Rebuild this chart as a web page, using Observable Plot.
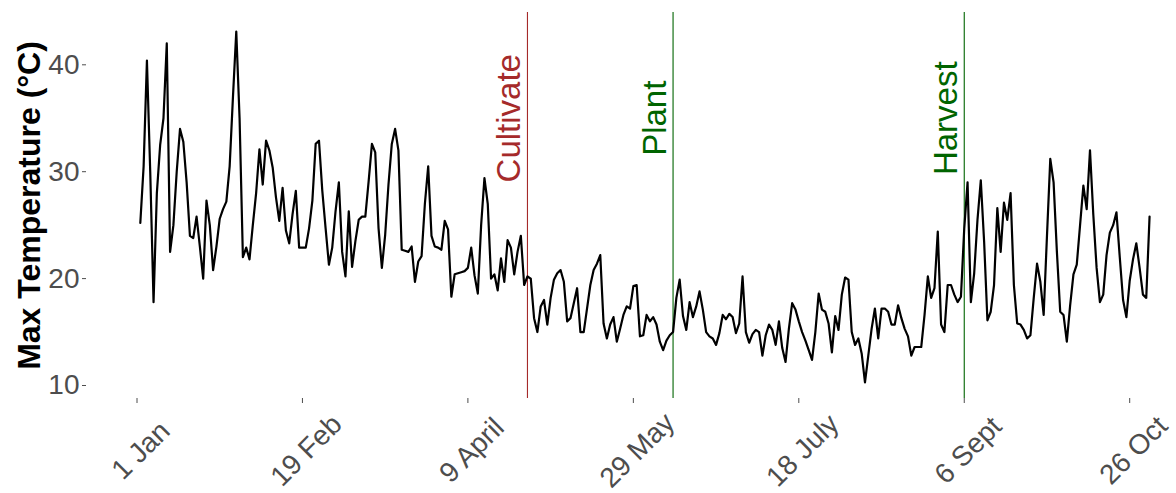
<!DOCTYPE html>
<html><head><meta charset="utf-8">
<script src="https://cdn.jsdelivr.net/npm/d3@7"></script>
<script src="https://cdn.jsdelivr.net/npm/@observablehq/plot@0.6"></script>
<style>
html,body{margin:0;padding:0;background:#fff;}
</style>
</head><body><div id="chart"></div>
<script>
// Daily maximum temperature (°C), day 1 = 1 Jan
const maxTemp = [
  25.2,30.5,40.4,30.0,17.8,28.0,32.5,35.0,42.0,22.5,
  25.0,30.0,34.0,32.8,29.0,24.0,23.8,25.8,23.0,20.0,
  27.3,25.0,20.8,23.0,25.6,26.5,27.2,30.5,37.0,43.1,
  35.0,22.0,22.9,21.8,25.0,28.0,32.1,28.8,32.9,32.0,
  30.4,27.6,25.4,28.5,24.5,23.3,26.0,28.2,22.9,22.9,
  22.9,24.7,27.3,32.6,32.9,28.2,24.7,21.3,22.9,26.3,
  29.0,22.5,20.2,26.3,21.1,23.5,25.5,25.8,25.8,29.1,
  32.6,31.8,24.7,21.0,24.1,28.8,32.6,34.0,32.0,22.7,
  22.6,22.5,23.0,19.7,21.6,22.1,27.0,30.5,24.0,23.0,
  22.9,22.7,25.4,24.6,18.3,20.4,20.5,20.6,20.7,21.0,
  22.9,20.3,18.6,25.0,29.4,27.0,20.0,20.4,18.9,21.9,
  19.7,23.6,22.9,20.4,22.5,24.0,19.4,20.2,20.0,16.3,
  15.0,17.4,18.0,15.7,18.2,19.9,20.5,20.8,19.7,16.0,
  16.3,17.7,19.1,15.0,15.0,17.2,19.4,20.8,21.4,22.2,
  15.8,14.4,15.7,16.4,14.1,15.3,16.6,17.4,17.2,19.3,
  19.4,14.6,14.7,16.6,16.0,16.4,15.7,14.1,13.3,14.2,
  14.7,15.0,18.2,19.9,16.5,15.2,17.8,16.4,17.4,18.8,
  17.1,15.0,14.6,14.4,13.8,14.9,16.6,16.2,16.7,16.4,
  14.9,15.8,20.2,15.0,14.0,14.8,15.2,15.0,12.8,14.7,
  15.7,15.2,13.8,16.0,13.5,12.2,15.3,17.7,17.1,16.0,
  15.0,14.2,13.3,12.4,15.0,18.6,17.1,16.9,15.8,13.1,
  16.5,15.2,18.5,20.1,19.9,15.0,13.8,14.4,13.0,10.3,
  12.8,15.3,17.2,14.4,17.2,17.2,16.9,15.7,15.7,17.5,
  16.3,15.3,14.6,12.8,13.6,13.6,13.6,16.6,20.2,18.2,
  19.1,24.4,15.7,15.0,19.4,19.4,18.5,17.8,18.3,24.7,
  29.0,17.8,20.5,25.5,29.2,23.5,16.1,16.9,19.4,26.6,
  22.5,27.1,25.5,28.0,19.4,15.8,15.7,15.2,14.4,14.7,
  18.2,21.4,19.7,16.6,24.0,31.2,29.0,22.5,16.9,16.6,
  14.1,17.5,20.4,21.3,25.0,28.7,26.5,32.0,26.0,21.0,
  17.8,18.5,22.2,24.3,25.0,26.2,22.0,18.0,16.4,19.8,
  21.8,23.3,21.0,18.5,18.2,25.8
];
const tickDays = [0, 50, 100, 150, 200, 250, 300];
const tickLabels = ["1 Jan", "19 Feb", "9 April", "29 May", "18 July", "6 Sept", "26 Oct"];
const yTicks = [10, 20, 30, 40];
const eventNames = ["Cultivate", "Plant", "Harvest"];
const eventDays = [118, 162, 250];
const eventColors = ["#a52a2a", "#006400", "#006400"];

const series = maxTemp.map((t, i) => ({day: i + 1, temp: t}));
const events = eventNames.map((name, i) => ({name, day: eventDays[i], color: eventColors[i]}));

const eventMarks = events.flatMap(e => [
  Plot.ruleX([e], {x: "day", stroke: e.color, strokeWidth: 1.1}),
  Plot.text([e], {x: "day", y: () => 35, text: "name", fill: e.color, rotate: -90,
    textAnchor: "middle", lineAnchor: "middle", dx: -18, fontSize: 33})
]);

const chart = Plot.plot({
  width: 1176, height: 493,
  marginTop: 12, marginBottom: 95, marginLeft: 86, marginRight: 0,
  style: {fontFamily: "'Liberation Sans', Arial, sans-serif", background: "white"},
  x: {domain: [0, 300], range: [136.5, 1129.2]},
  y: {domain: [10, 40], range: [385, 64.3]},
  marks: [
    ...eventMarks,
    Plot.line(series, {x: "day", y: "temp", stroke: "black", strokeWidth: 2.2}),
    Plot.axisY({ticks: yTicks, tickSize: 4, tickPadding: 3, fontSize: 28, color: "#4d4d4d", label: null}),
    Plot.axisX({ticks: tickDays, tickSize: 5, tickFormat: () => "", color: "#4d4d4d", label: null}),
    Plot.text(tickDays, {x: d => d, frameAnchor: "bottom", text: (d, i) => tickLabels[i], rotate: -45,
      textAnchor: "middle", lineAnchor: "middle", dx: 4, dy: 52, fontSize: 28, fill: "#4d4d4d"}),
    Plot.text(["Max Temperature (°C)"], {frameAnchor: "left", rotate: -90, textAnchor: "middle",
      lineAnchor: "middle", dx: -57, fontSize: 32, fontWeight: "bold", fill: "black"})
  ]
});
document.getElementById("chart").appendChild(chart);
</script>
</body></html>
